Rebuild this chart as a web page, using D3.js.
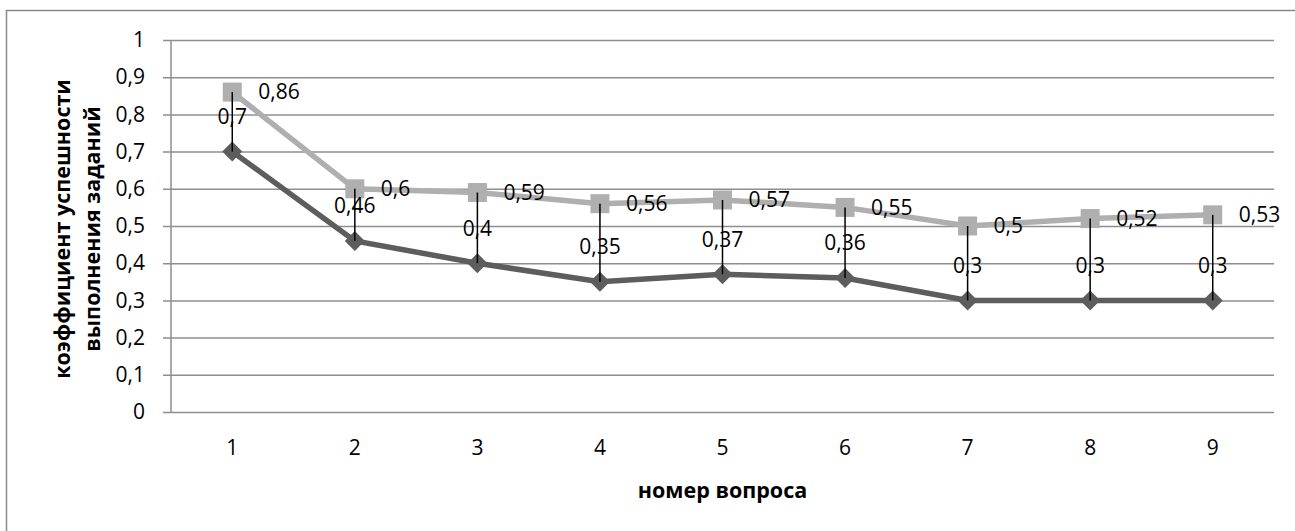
<!DOCTYPE html>
<html>
<head>
<meta charset="utf-8">
<script src="https://cdn.jsdelivr.net/npm/d3@7"></script>
<style>
  html, body { margin: 0; padding: 0; background: #fff; }
  svg { display: block; }
  svg text { font-family: "Open Sans", "DejaVu Sans", sans-serif; }
  .tick text { font-size: 21px; fill: #000; }
  .label { font-size: 21px; fill: #000; }
  .title { font-size: 21.5px; font-weight: bold; fill: #000; }
</style>
</head>
<body>
<div id="root"></div>
<script>
const questions = [1, 2, 3, 4, 5, 6, 7, 8, 9];
const upperValues = [0.86, 0.6, 0.59, 0.56, 0.57, 0.55, 0.5, 0.52, 0.53];
const lowerValues = [0.7, 0.46, 0.4, 0.35, 0.37, 0.36, 0.3, 0.3, 0.3];
const yTicks = [0, 0.1, 0.2, 0.3, 0.4, 0.5, 0.6, 0.7, 0.8, 0.9, 1];

const svgWidth = 1295;
const svgHeight = 531;
const margin = { top: 40, right: 21, bottom: 119, left: 171 };
const chartWidth = svgWidth - margin.left - margin.right;
const chartHeight = svgHeight - margin.top - margin.bottom;

const fmt = v => String(v).replace('.', ',');

const svg = d3.select('#root').append('svg')
  .attr('width', svgWidth)
  .attr('height', svgHeight);

// outer frame of the chart area
svg.append('rect')
  .attr('x', 6.5)
  .attr('y', 10.5)
  .attr('width', 1400)
  .attr('height', 700)
  .attr('fill', 'none')
  .attr('stroke', '#8a8a8a')
  .attr('stroke-width', 1.5);

const chart = svg.append('g')
  .attr('transform', `translate(${margin.left}, ${margin.top})`);

const xScale = d3.scaleBand()
  .domain(questions)
  .range([0, chartWidth]);

const yScale = d3.scaleLinear()
  .domain([0, 1])
  .range([chartHeight, 0]);

const xPos = d => xScale(d) + xScale.bandwidth() / 2;

// gridlines + y axis
const yAxis = d3.axisLeft(yScale)
  .tickValues(yTicks)
  .tickFormat(fmt)
  .tickSize(-chartWidth)
  .tickPadding(26);

const yG = chart.append('g').call(yAxis);
yG.attr('font-family', null).attr('font-size', null);
yG.select('.domain').remove();
yG.selectAll('.tick line')
  .attr('x1', -8)
  .attr('stroke', '#8e8e8e')
  .attr('stroke-width', 1.5);

chart.append('line')
  .attr('x1', 0).attr('x2', 0)
  .attr('y1', 0).attr('y2', chartHeight)
  .attr('stroke', '#8e8e8e')
  .attr('stroke-width', 1.5);

const xAxis = d3.axisBottom(xScale)
  .tickSize(0)
  .tickPadding(28);

const xG = chart.append('g')
  .attr('transform', `translate(0, ${chartHeight})`)
  .call(xAxis);
xG.attr('font-family', null).attr('font-size', null);
xG.select('.domain').remove();

// axis titles
svg.append('text')
  .attr('class', 'title')
  .attr('x', margin.left + chartWidth / 2)
  .attr('y', 498)
  .attr('text-anchor', 'middle')
  .text('номер вопроса');

const yTitle = svg.append('text')
  .attr('class', 'title')
  .attr('transform', 'translate(70, 229) rotate(-90)')
  .attr('text-anchor', 'middle');
yTitle.append('tspan').attr('x', 0).attr('dy', 0).text('коэффициент успешности');
yTitle.append('tspan').attr('x', 0).attr('dy', 30).text('выполнения заданий');

const line = d3.line()
  .x((d, i) => xPos(questions[i]))
  .y(d => yScale(d));

chart.append('path')
  .datum(upperValues)
  .attr('d', line)
  .attr('fill', 'none')
  .attr('stroke', '#afafaf')
  .attr('stroke-width', 5.5);

chart.append('path')
  .datum(lowerValues)
  .attr('d', line)
  .attr('fill', 'none')
  .attr('stroke', '#5d5d5d')
  .attr('stroke-width', 5.5);

chart.selectAll('.square')
  .data(upperValues)
  .enter()
  .append('rect')
  .attr('class', 'square')
  .attr('x', (d, i) => xPos(questions[i]) - 9.5)
  .attr('y', d => yScale(d) - 9.5)
  .attr('width', 19)
  .attr('height', 19)
  .attr('fill', '#afafaf');

chart.selectAll('.diamond')
  .data(lowerValues)
  .enter()
  .append('path')
  .attr('class', 'diamond')
  .attr('transform', (d, i) => `translate(${xPos(questions[i])}, ${yScale(d)}) rotate(45)`)
  .attr('d', d3.symbol(d3.symbolSquare, 200))
  .attr('fill', '#5d5d5d');

// high-low lines
chart.selectAll('.hilo')
  .data(questions)
  .enter()
  .append('line')
  .attr('class', 'hilo')
  .attr('x1', d => xPos(d))
  .attr('x2', d => xPos(d))
  .attr('y1', (d, i) => yScale(upperValues[i]))
  .attr('y2', (d, i) => yScale(lowerValues[i]))
  .attr('stroke', '#000')
  .attr('stroke-width', 1.5);

chart.selectAll('.label-upper')
  .data(upperValues)
  .enter()
  .append('text')
  .attr('class', 'label')
  .attr('x', (d, i) => xPos(questions[i]) + 26)
  .attr('y', d => yScale(d))
  .attr('dy', '0.35em')
  .text(fmt);

chart.selectAll('.label-lower')
  .data(lowerValues)
  .enter()
  .append('text')
  .attr('class', 'label')
  .attr('x', (d, i) => xPos(questions[i]))
  .attr('y', d => yScale(d) - 35)
  .attr('dy', '0.35em')
  .attr('text-anchor', 'middle')
  .text(fmt);
</script>
</body>
</html>
